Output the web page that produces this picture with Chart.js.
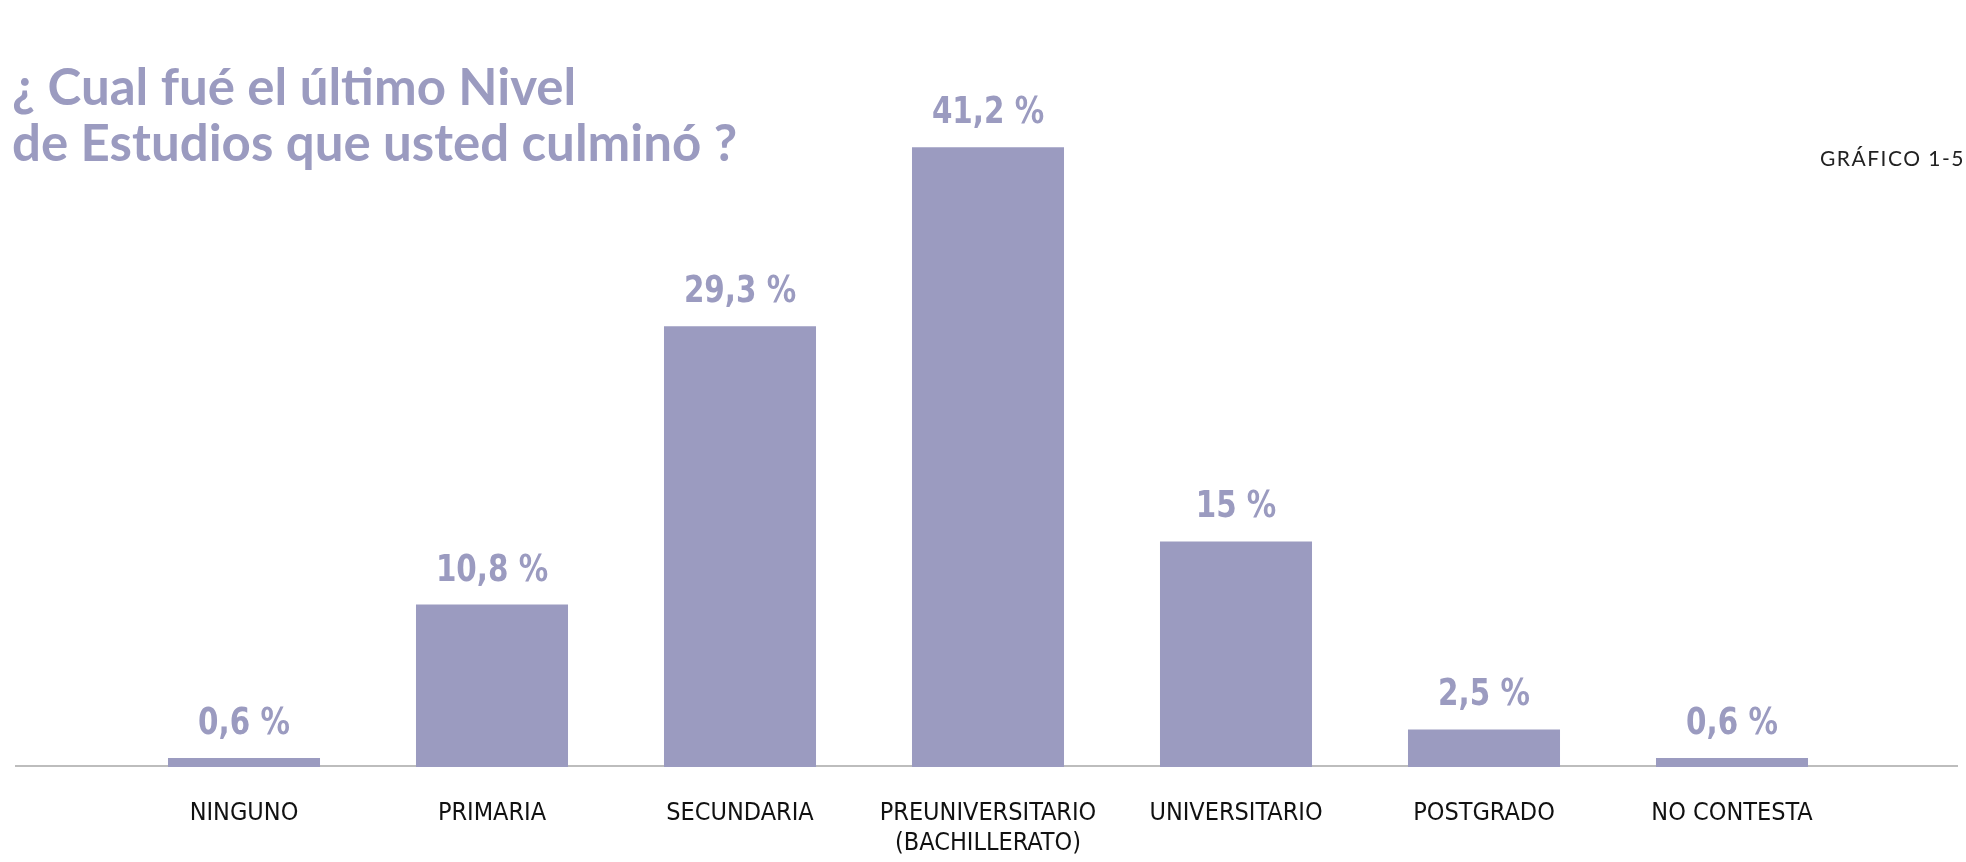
<!DOCTYPE html>
<html>
<head>
<meta charset="utf-8">
<script src="https://cdn.jsdelivr.net/npm/chart.js@4"></script>
<style>
  body { margin: 0; background: #fff; }
  #wrap { position: relative; width: 1966px; height: 862px; }
  #title {
    position: absolute; left: 12px; top: 58px;
    font-family: Lato, sans-serif; font-weight: bold; font-size: 51px;
    line-height: 56px; color: #9b9bc0;
  }
  #code {
    position: absolute; right: 1px; top: 145px;
    font-family: Lato, sans-serif; font-size: 21px; letter-spacing: 1.5px;
    color: #222;
  }
</style>
</head>
<body>
<div id="wrap">
  <canvas id="barChart"></canvas>
  <div id="title">¿ Cual fué el último Nivel<br>de Estudios que usted culminó ?</div>
  <div id="code">GRÁFICO 1-5</div>
</div>
<script>
const categories = ['NINGUNO', 'PRIMARIA', 'SECUNDARIA', ['PREUNIVERSITARIO', '(BACHILLERATO)'], 'UNIVERSITARIO', 'POSTGRADO', 'NO CONTESTA'];
const percentages = [0.6, 10.8, 29.3, 41.2, 15, 2.5, 0.6];
const barColor = '#9b9bc0';

// baseline across the whole width, under the bars
const baseLine = {
  id: 'baseLine',
  beforeDatasetsDraw(chart) {
    const ctx = chart.ctx;
    const y = chart.chartArea.bottom - 1;
    ctx.save();
    ctx.strokeStyle = '#bdbdbd';
    ctx.lineWidth = 2;
    ctx.beginPath();
    ctx.moveTo(15, y);
    ctx.lineTo(1958, y);
    ctx.stroke();
    ctx.restore();
  }
};

// value labels over each bar (squeezed a bit to look condensed)
const valueLabels = {
  id: 'valueLabels',
  afterDatasetsDraw(chart) {
    const ctx = chart.ctx;
    const meta = chart.getDatasetMeta(0);
    ctx.fillStyle = barColor;
    ctx.font = 'bold 38px "DejaVu Sans Condensed", "DejaVu Sans", sans-serif';
    ctx.textAlign = 'center';
    ctx.textBaseline = 'alphabetic';
    meta.data.forEach((bar, i) => {
      const txt = String(percentages[i]).replace('.', ',') + ' %';
      ctx.save();
      ctx.translate(bar.x, bar.y - 24);
      ctx.scale(0.86, 1);
      ctx.fillText(txt, 0, 0);
      ctx.restore();
    });
  }
};

new Chart(document.getElementById('barChart').getContext('2d'), {
  type: 'bar',
  data: {
    labels: categories,
    datasets: [{
      data: percentages,
      backgroundColor: barColor,
      borderWidth: 0,
      barPercentage: 0.613,
      categoryPercentage: 1
    }]
  },
  options: {
    responsive: true,
    maintainAspectRatio: false,
    animation: false,
    layout: { padding: { top: 15, left: 120, right: 110, bottom: 0 } },
    plugins: { legend: { display: false }, tooltip: { enabled: false } },
    scales: {
      x: {
        grid: { display: false, drawTicks: false },
        border: { display: false },
        afterFit: (scale) => { scale.height = 95; },
        ticks: {
          color: '#111',
          padding: 31,
          autoSkip: false,
          maxRotation: 0,
          font: { family: '"DejaVu Sans Condensed", "DejaVu Sans", sans-serif', size: 25, lineHeight: '30px' }
        }
      },
      y: { display: false, min: 0, max: 50 }
    }
  },
  plugins: [baseLine, valueLabels]
});
</script>
</body>
</html>
